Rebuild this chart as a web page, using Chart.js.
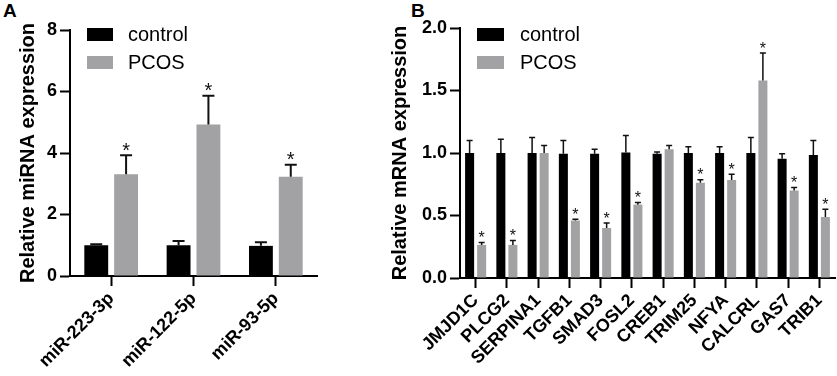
<!DOCTYPE html>
<html>
<head>
<meta charset="utf-8">
<script src="https://cdn.jsdelivr.net/npm/chart.js@4.4.1/dist/chart.umd.min.js"></script>
<style>
  body { margin: 0; background: #fff; width: 837px; height: 376px; position: relative; overflow: hidden; font-family: "Liberation Sans", Arial, sans-serif; }
  canvas { position: absolute; top: 0; }
  #chartA { left: 0; }
  #chartB { left: 380px; }
  .panel { position: absolute; font-weight: bold; font-size: 19px; line-height: 22px; color: #000; }
</style>
</head>
<body>
<div class="panel" style="left:3px;top:0px">A</div>
<div class="panel" style="left:411px;top:0px">B</div>
<canvas id="chartA" width="380" height="376"></canvas>
<canvas id="chartB" width="457" height="376"></canvas>
<script>
// panel A - miRNA
const catsA = ['miR-223-3p', 'miR-122-5p', 'miR-93-5p'];
const ctrlA = [1.0, 1.0, 0.98];
const ctrlErrA = [0.03, 0.14, 0.12];
const pcosA = [3.31, 4.93, 3.23];
const pcosErrA = [0.62, 0.93, 0.39];
const sigA = [true, true, true];

// panel B - mRNA
const catsB = ['JMJD1C', 'PLCG2', 'SERPINA1', 'TGFB1', 'SMAD3', 'FOSL2', 'CREB1', 'TRIM25', 'NFYA', 'CALCRL', 'GAS7', 'TRIB1'];
const ctrlB = [1.0, 1.0, 1.0, 0.995, 0.995, 1.005, 0.995, 1.0, 1.0, 1.0, 0.955, 0.985];
const ctrlErrB = [0.10, 0.11, 0.125, 0.105, 0.035, 0.135, 0.013, 0.05, 0.05, 0.125, 0.04, 0.115];
const pcosB = [0.265, 0.265, 1.0, 0.46, 0.40, 0.587, 1.03, 0.763, 0.784, 1.58, 0.70, 0.488];
const pcosErrB = [0.02, 0.035, 0.06, 0.01, 0.04, 0.018, 0.03, 0.024, 0.046, 0.22, 0.025, 0.062];
const sigB = [true, true, false, true, true, true, false, true, true, true, true, true];

const seriesNames = ['control', 'PCOS'];
const FONT = '"Liberation Sans", Arial, sans-serif';
const BLACK = '#000000', GREY = '#a2a2a5';

// error bars (upper only) + asterisks over PCOS bars
function errorBars(errs, sig, lw, cap, starSize) {
    return {
        id: 'errorBars',
        afterDatasetsDraw(chart) {
            const ctx = chart.ctx, y = chart.scales.y;
            ctx.save();
            chart.data.datasets.forEach((ds, i) => {
                chart.getDatasetMeta(i).data.forEach((bar, j) => {
                    const top = y.getPixelForValue(ds.data[j] + errs[i][j]);
                    ctx.strokeStyle = '#111'; ctx.lineWidth = lw;
                    ctx.beginPath();
                    ctx.moveTo(bar.x, bar.y); ctx.lineTo(bar.x, top);
                    ctx.moveTo(bar.x - cap / 2, top); ctx.lineTo(bar.x + cap / 2, top);
                    ctx.stroke();
                    if (i === 1 && sig[j]) {
                        ctx.font = starSize + 'px ' + FONT; ctx.fillStyle = '#111';
                        ctx.textAlign = 'center'; ctx.textBaseline = 'alphabetic';
                        const m = ctx.measureText('*');
                        const cy = top - 8.5;
                        ctx.fillText('*', bar.x, cy - (m.actualBoundingBoxDescent - m.actualBoundingBoxAscent) / 2);
                    }
                });
            });
            ctx.restore();
        }
    };
}

// vertical legend like the original
function legendBox(bx, bw, tx) {
    return {
        id: 'legendBox',
        afterDraw(chart) {
            const ctx = chart.ctx;
            ctx.save();
            chart.data.datasets.forEach((ds, i) => {
                const yc = 34.5 + i * 28;
                ctx.fillStyle = ds.backgroundColor;
                ctx.fillRect(bx, yc - 6.5, bw, 13);
                ctx.fillStyle = '#000'; ctx.font = '20px ' + FONT;
                ctx.textAlign = 'left'; ctx.textBaseline = 'middle';
                ctx.fillText(ds.label, tx, yc + 1);
            });
            ctx.restore();
        }
    };
}

function makeChart(id, cats, ctrl, pcos, errs, sig, c) {
    return new Chart(document.getElementById(id), {
        type: 'bar',
        data: {
            labels: cats,
            datasets: [
                { label: seriesNames[0], data: ctrl, backgroundColor: BLACK, borderWidth: 0, categoryPercentage: c.catPct, barPercentage: c.barPct },
                { label: seriesNames[1], data: pcos, backgroundColor: GREY, borderWidth: 0, categoryPercentage: c.catPct, barPercentage: c.barPct }
            ]
        },
        options: {
            responsive: false, animation: false, devicePixelRatio: 1,
            layout: { padding: { left: 0, right: c.padRight, top: c.padTop, bottom: 0 } },
            plugins: { legend: { display: false }, tooltip: { enabled: false } },
            scales: {
                x: {
                    offset: true,
                    ticks: { color: '#000', font: { family: FONT, size: 18, weight: 'bold' }, minRotation: 45, maxRotation: 45, autoSkip: false, padding: 2 },
                    grid: { offset: false, drawOnChartArea: false, tickLength: 10, tickWidth: 2, tickColor: '#000' },
                    border: { color: '#000', width: 2 },
                    afterFit: s => { s.height = c.xh; }
                },
                y: {
                    min: 0, max: c.yMax,
                    ticks: { stepSize: c.step, color: '#000', font: { family: FONT, size: 18, weight: 'bold' }, padding: 3, callback: v => c.fmt(v) },
                    grid: { drawOnChartArea: false, tickLength: 10, tickWidth: 2, tickColor: '#000' },
                    border: { color: '#000', width: 2 },
                    title: { display: true, text: c.title, color: '#000', font: { family: FONT, size: 20, weight: 'bold' }, padding: { top: c.titlePad, bottom: 0 } },
                    afterFit: s => { s.width = c.yw; }
                }
            }
        },
        plugins: [errorBars(errs, sig, c.lw, c.cap, c.star), legendBox(c.bx, c.bw, c.tx)]
    });
}

makeChart('chartA', catsA, ctrlA, pcosA, [ctrlErrA, pcosErrA], sigA, {
    catPct: 0.725, barPct: 0.8, padRight: 63, padTop: 30, xh: 100, yw: 70,
    yMax: 8, step: 2, fmt: v => String(v), title: 'Relative miRNA expression', titlePad: 16,
    lw: 2, cap: 12, star: 20, bx: 87, bw: 26, tx: 128
});

makeChart('chartB', catsB, ctrlB, pcosB, [ctrlErrB, pcosErrB], sigB, {
    catPct: 0.77, barPct: 0.75, padRight: 2, padTop: 28, xh: 98, yw: 80,
    yMax: 2, step: 0.5, fmt: v => v.toFixed(1), title: 'Relative mRNA expression', titlePad: 8,
    lw: 1.5, cap: 6, star: 16, bx: 97, bw: 27, tx: 140
});
</script>
</body>
</html>
